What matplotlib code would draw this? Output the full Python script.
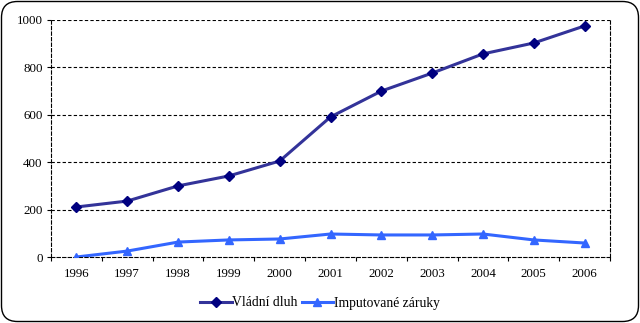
import matplotlib
matplotlib.use("Agg")
import matplotlib.pyplot as plt
from matplotlib.patches import FancyBboxPatch

years = ["1996", "1997", "1998", "1999", "2000", "2001", "2002", "2003", "2004", "2005", "2006"]
vladni_dluh = [211, 236, 300, 342, 405, 591, 700, 776, 857, 903, 975]
imputovane_zaruky = [0, 25, 63, 72, 76, 97, 93, 93, 97, 72, 59]

plt.rcParams["font.family"] = ["Liberation Serif", "DejaVu Serif"]
plt.rcParams["font.size"] = 9.3

fig = plt.figure(figsize=(6.4, 3.23), dpi=100)
fig.patch.set_facecolor("white")
ax = fig.add_axes([51 / 640, 66 / 323, 559 / 640, 237 / 323])

x = list(range(len(years)))
ax.plot(x, vladni_dluh, color="#333399", lw=2.2, marker="D", ms=5,
        mfc="#000080", mec="#000080", label="Vládní dluh", zorder=3)
ax.plot(x, imputovane_zaruky, color="#3366FF", lw=2.2, marker="^", ms=6,
        mfc="#3366FF", mec="#3366FF", label="Imputované záruky", zorder=3)

ax.set_xlim(-0.5, len(years) - 0.5)
ax.set_ylim(0, 1000)
ax.set_yticks(range(0, 1001, 200))
ax.set_xticks(x)
ax.set_xticklabels(years)
ax.set_xticks([i - 0.5 for i in range(len(years) + 1)], minor=True)
ax.tick_params(axis="x", which="major", length=0, pad=8)
ax.tick_params(axis="x", which="minor", length=3, direction="out", width=0.8)
ax.tick_params(axis="y", length=3, direction="out", width=0.8, pad=3)

for y in range(200, 1001, 200):
    ax.axhline(y, color="black", lw=0.8, ls=(0, (3, 2)), zorder=1)
for side in ["left", "right", "bottom", "top"]:
    ax.spines[side].set_linestyle((0, (3, 2)))
    ax.spines[side].set_linewidth(0.8)
ax.spines["top"].set_visible(False)

leg = fig.legend(loc="center", bbox_to_anchor=(0.5, 20 / 323), ncol=2, frameon=False,
                 handlelength=2.3, columnspacing=0.3, handletextpad=0.05, fontsize=9.8)

border = FancyBboxPatch((1.5 / 640, 1.5 / 323), 637 / 640, 320 / 323,
                        boxstyle="round,pad=0,rounding_size=0.025",
                        transform=fig.transFigure, fill=False, ec="black", lw=1.0,
                        mutation_aspect=640 / 323)
fig.patches.append(border)

fig.savefig("out.png", dpi=100)
